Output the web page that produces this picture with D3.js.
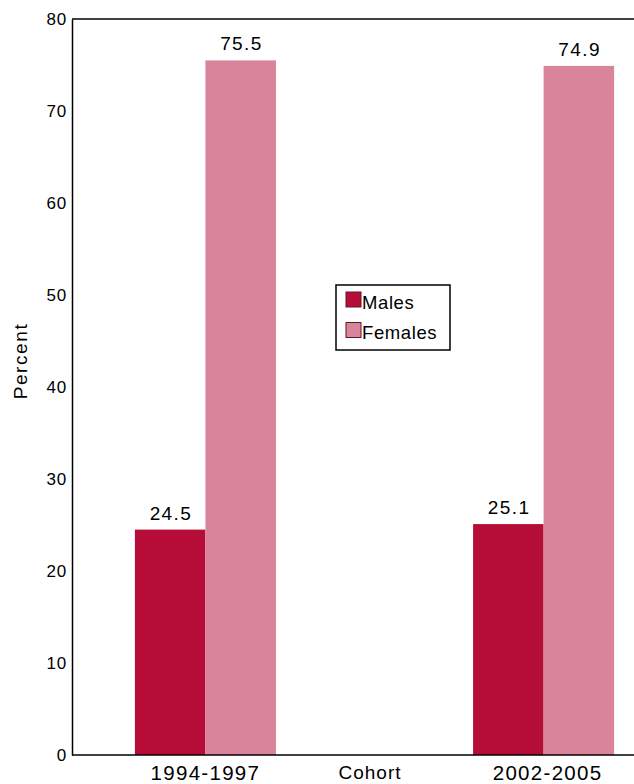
<!DOCTYPE html>
<html>
<head>
<meta charset="utf-8">
<script src="https://cdn.jsdelivr.net/npm/d3@7"></script>
<style>
  html, body { margin: 0; padding: 0; background: #fff; }
  svg text { font-family: "Liberation Sans", Arial, Helvetica, sans-serif; fill: #000; }
</style>
</head>
<body>
<svg id="chart" width="634" height="784"></svg>
<script>
const cohorts = ["1994-1997", "2002-2005"];
const seriesNames = ["Males", "Females"];
const males = [24.5, 25.1];
const females = [75.5, 74.9];
const yTicks = [0, 10, 20, 30, 40, 50, 60, 70, 80];
const colors = ["#B50D37", "#D9849A"];

const svg = d3.select("#chart");
const margin = { left: 72, top: 19, bottom: 755, right: 634 };

const y = d3.scaleLinear().domain([0, 80]).range([margin.bottom, margin.top]);
const x0 = d3.scaleBand().domain(cohorts).range([margin.left, 677]).paddingInner(0.583).paddingOuter(0.186);
const x1 = d3.scaleBand().domain(seriesNames).range([0, x0.bandwidth()]);

const data = cohorts.map((c, i) => ({ cohort: c, values: [males[i], females[i]] }));

// bars
const g = svg.append("g");
data.forEach(d => {
  d.values.forEach((v, j) => {
    g.append("rect")
      .attr("x", x0(d.cohort) + x1(seriesNames[j]))
      .attr("y", y(v))
      .attr("width", x1.bandwidth())
      .attr("height", y(0) - y(v))
      .attr("fill", colors[j]);
    g.append("text")
      .attr("x", x0(d.cohort) + x1(seriesNames[j]) + x1.bandwidth() / 2 + 0.8)
      .attr("y", y(v) - 10)
      .attr("text-anchor", "middle")
      .style("font-size", "19px")
      .style("letter-spacing", "1.4px")
      .text(v.toFixed(1));
  });
});

// y axis
const yAxis = d3.axisLeft(y).tickValues(yTicks).tickSize(0).tickPadding(5);
const ya = svg.append("g").attr("transform", `translate(${margin.left},0)`).call(yAxis);
ya.select(".domain").attr("stroke", "#000").attr("stroke-width", 1.5);
ya.selectAll("text").style("font-size", "17px").style("letter-spacing", "0.8px").attr("fill", "#000").attr("font-family", null);

// top line
svg.append("line").attr("x1", margin.left).attr("x2", margin.right)
  .attr("y1", y(80)).attr("y2", y(80)).attr("stroke", "#000").attr("stroke-width", 1.5);

// x axis (baseline extends to right edge)
const xAxis = d3.axisBottom(x0).tickSize(0).tickPadding(10);
const xa = svg.append("g").attr("transform", `translate(0,${margin.bottom})`).call(xAxis);
xa.select(".domain").remove();
svg.append("line").attr("x1", margin.left).attr("x2", margin.right)
  .attr("y1", y(0)).attr("y2", y(0)).attr("stroke", "#000").attr("stroke-width", 1.5);
xa.selectAll("text").style("font-size", "20.5px").style("letter-spacing", "1.3px").attr("fill", "#000").attr("font-family", null)
  .attr("dx", (d, i) => i === 1 ? 4 : 0);

// axis titles
svg.append("text").attr("x", 370).attr("y", 779).attr("text-anchor", "middle")
  .style("font-size", "19px").style("letter-spacing", "1px").text("Cohort");
svg.append("text").attr("transform", "translate(27,361) rotate(-90)").attr("text-anchor", "middle")
  .style("font-size", "19px").style("letter-spacing", "1.6px").text("Percent");

// legend
const lg = svg.append("g").attr("transform", "translate(336,285)");
lg.append("rect").attr("width", 114).attr("height", 65).attr("fill", "#fff").attr("stroke", "#000").attr("stroke-width", 1.5);
seriesNames.forEach((s, i) => {
  lg.append("rect").attr("x", 10).attr("y", 7 + i * 30.5).attr("width", 15).attr("height", 15)
    .attr("fill", colors[i]).attr("stroke", "#5a1a2a").attr("stroke-width", 1);
  lg.append("text").attr("x", 26).attr("y", 23.5 + i * 30)
    .style("font-size", "18.5px").style("letter-spacing", "0.6px").text(s);
});
</script>
</body>
</html>
